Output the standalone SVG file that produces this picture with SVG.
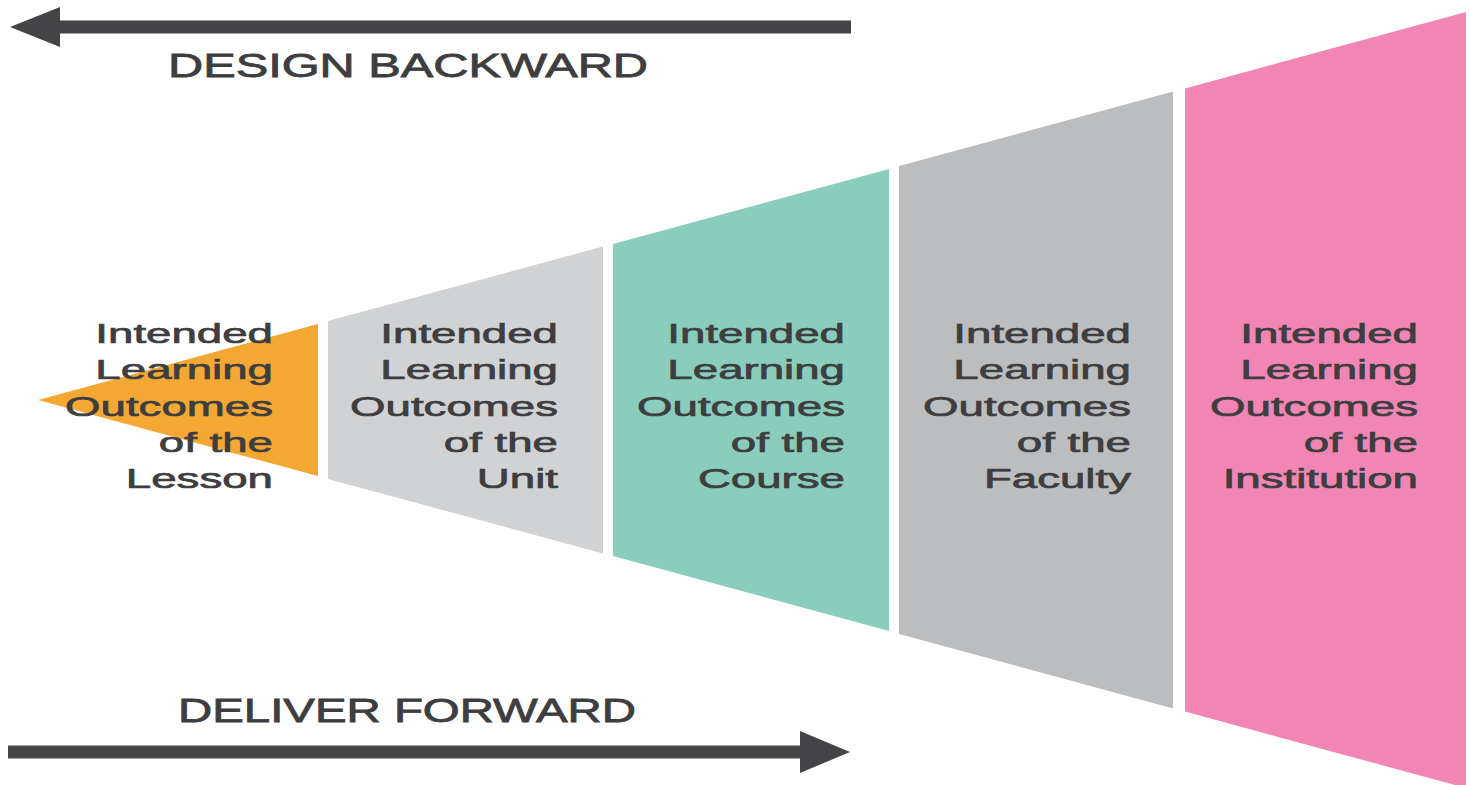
<svg xmlns="http://www.w3.org/2000/svg" width="1470" height="785" viewBox="0 0 1470 785">
<style>
.lbl{font-family:"Liberation Sans",Arial,sans-serif;font-size:28px;fill:#3e3e40;stroke:#3e3e40;stroke-width:0.7px;text-anchor:end}
.ttl{font-family:"Liberation Sans",Arial,sans-serif;font-size:33px;fill:#3e3e40;stroke:#3e3e40;stroke-width:0.8px}
.arr{stroke:#444446;stroke-width:13;fill:none}
.head{fill:#444446}
</style>
<rect width="1470" height="785" fill="#ffffff"/>
<g id="connectors">
  <line class="arr" x1="56" y1="27" x2="851" y2="27"/>
  <polygon class="head" points="10,27 60,7 60,47"/>
  <line class="arr" x1="8" y1="752" x2="805" y2="752"/>
  <polygon class="head" points="850,752 800,731 800,773"/>
</g>
<g id="title-design">
  <text class="ttl" x="168" y="77" textLength="480" lengthAdjust="spacingAndGlyphs">DESIGN BACKWARD</text>
</g>
<g id="title-deliver">
  <text class="ttl" x="178" y="722" textLength="458" lengthAdjust="spacingAndGlyphs">DELIVER FORWARD</text>
</g>
<g id="lesson">
  <polygon points="38,400 318,324 318,476" fill="#F5A733"/>
  <g transform="translate(273,0) scale(1.63,1)">
    <text class="lbl" x="0" y="343">Intended</text>
    <text class="lbl" x="0" y="379">Learning</text>
    <text class="lbl" x="0" y="416">Outcomes</text>
    <text class="lbl" x="0" y="452">of the</text>
    <text class="lbl" x="0" y="488">Lesson</text>
  </g>
</g>
<g id="unit">
  <polygon points="328,321 603,246.5 603,553.5 328,479" fill="#D1D2D4"/>
  <g transform="translate(558,0) scale(1.63,1)">
    <text class="lbl" x="0" y="343">Intended</text>
    <text class="lbl" x="0" y="379">Learning</text>
    <text class="lbl" x="0" y="416">Outcomes</text>
    <text class="lbl" x="0" y="452">of the</text>
    <text class="lbl" x="0" y="488">Unit</text>
  </g>
</g>
<g id="course">
  <polygon points="613,244 889,169 889,631 613,556" fill="#8ACDBD"/>
  <g transform="translate(845,0) scale(1.63,1)">
    <text class="lbl" x="0" y="343">Intended</text>
    <text class="lbl" x="0" y="379">Learning</text>
    <text class="lbl" x="0" y="416">Outcomes</text>
    <text class="lbl" x="0" y="452">of the</text>
    <text class="lbl" x="0" y="488">Course</text>
  </g>
</g>
<g id="faculty">
  <polygon points="899,166 1173,91.6 1173,708.4 899,634" fill="#BCBDBF"/>
  <g transform="translate(1131,0) scale(1.63,1)">
    <text class="lbl" x="0" y="343">Intended</text>
    <text class="lbl" x="0" y="379">Learning</text>
    <text class="lbl" x="0" y="416">Outcomes</text>
    <text class="lbl" x="0" y="452">of the</text>
    <text class="lbl" x="0" y="488">Faculty</text>
  </g>
</g>
<g id="institution">
  <polygon points="1185,88.4 1466,12 1466,788 1185,711.6" fill="#F186B5"/>
  <g transform="translate(1418,0) scale(1.63,1)">
    <text class="lbl" x="0" y="343">Intended</text>
    <text class="lbl" x="0" y="379">Learning</text>
    <text class="lbl" x="0" y="416">Outcomes</text>
    <text class="lbl" x="0" y="452">of the</text>
    <text class="lbl" x="0" y="488">Institution</text>
  </g>
</g>
</svg>
